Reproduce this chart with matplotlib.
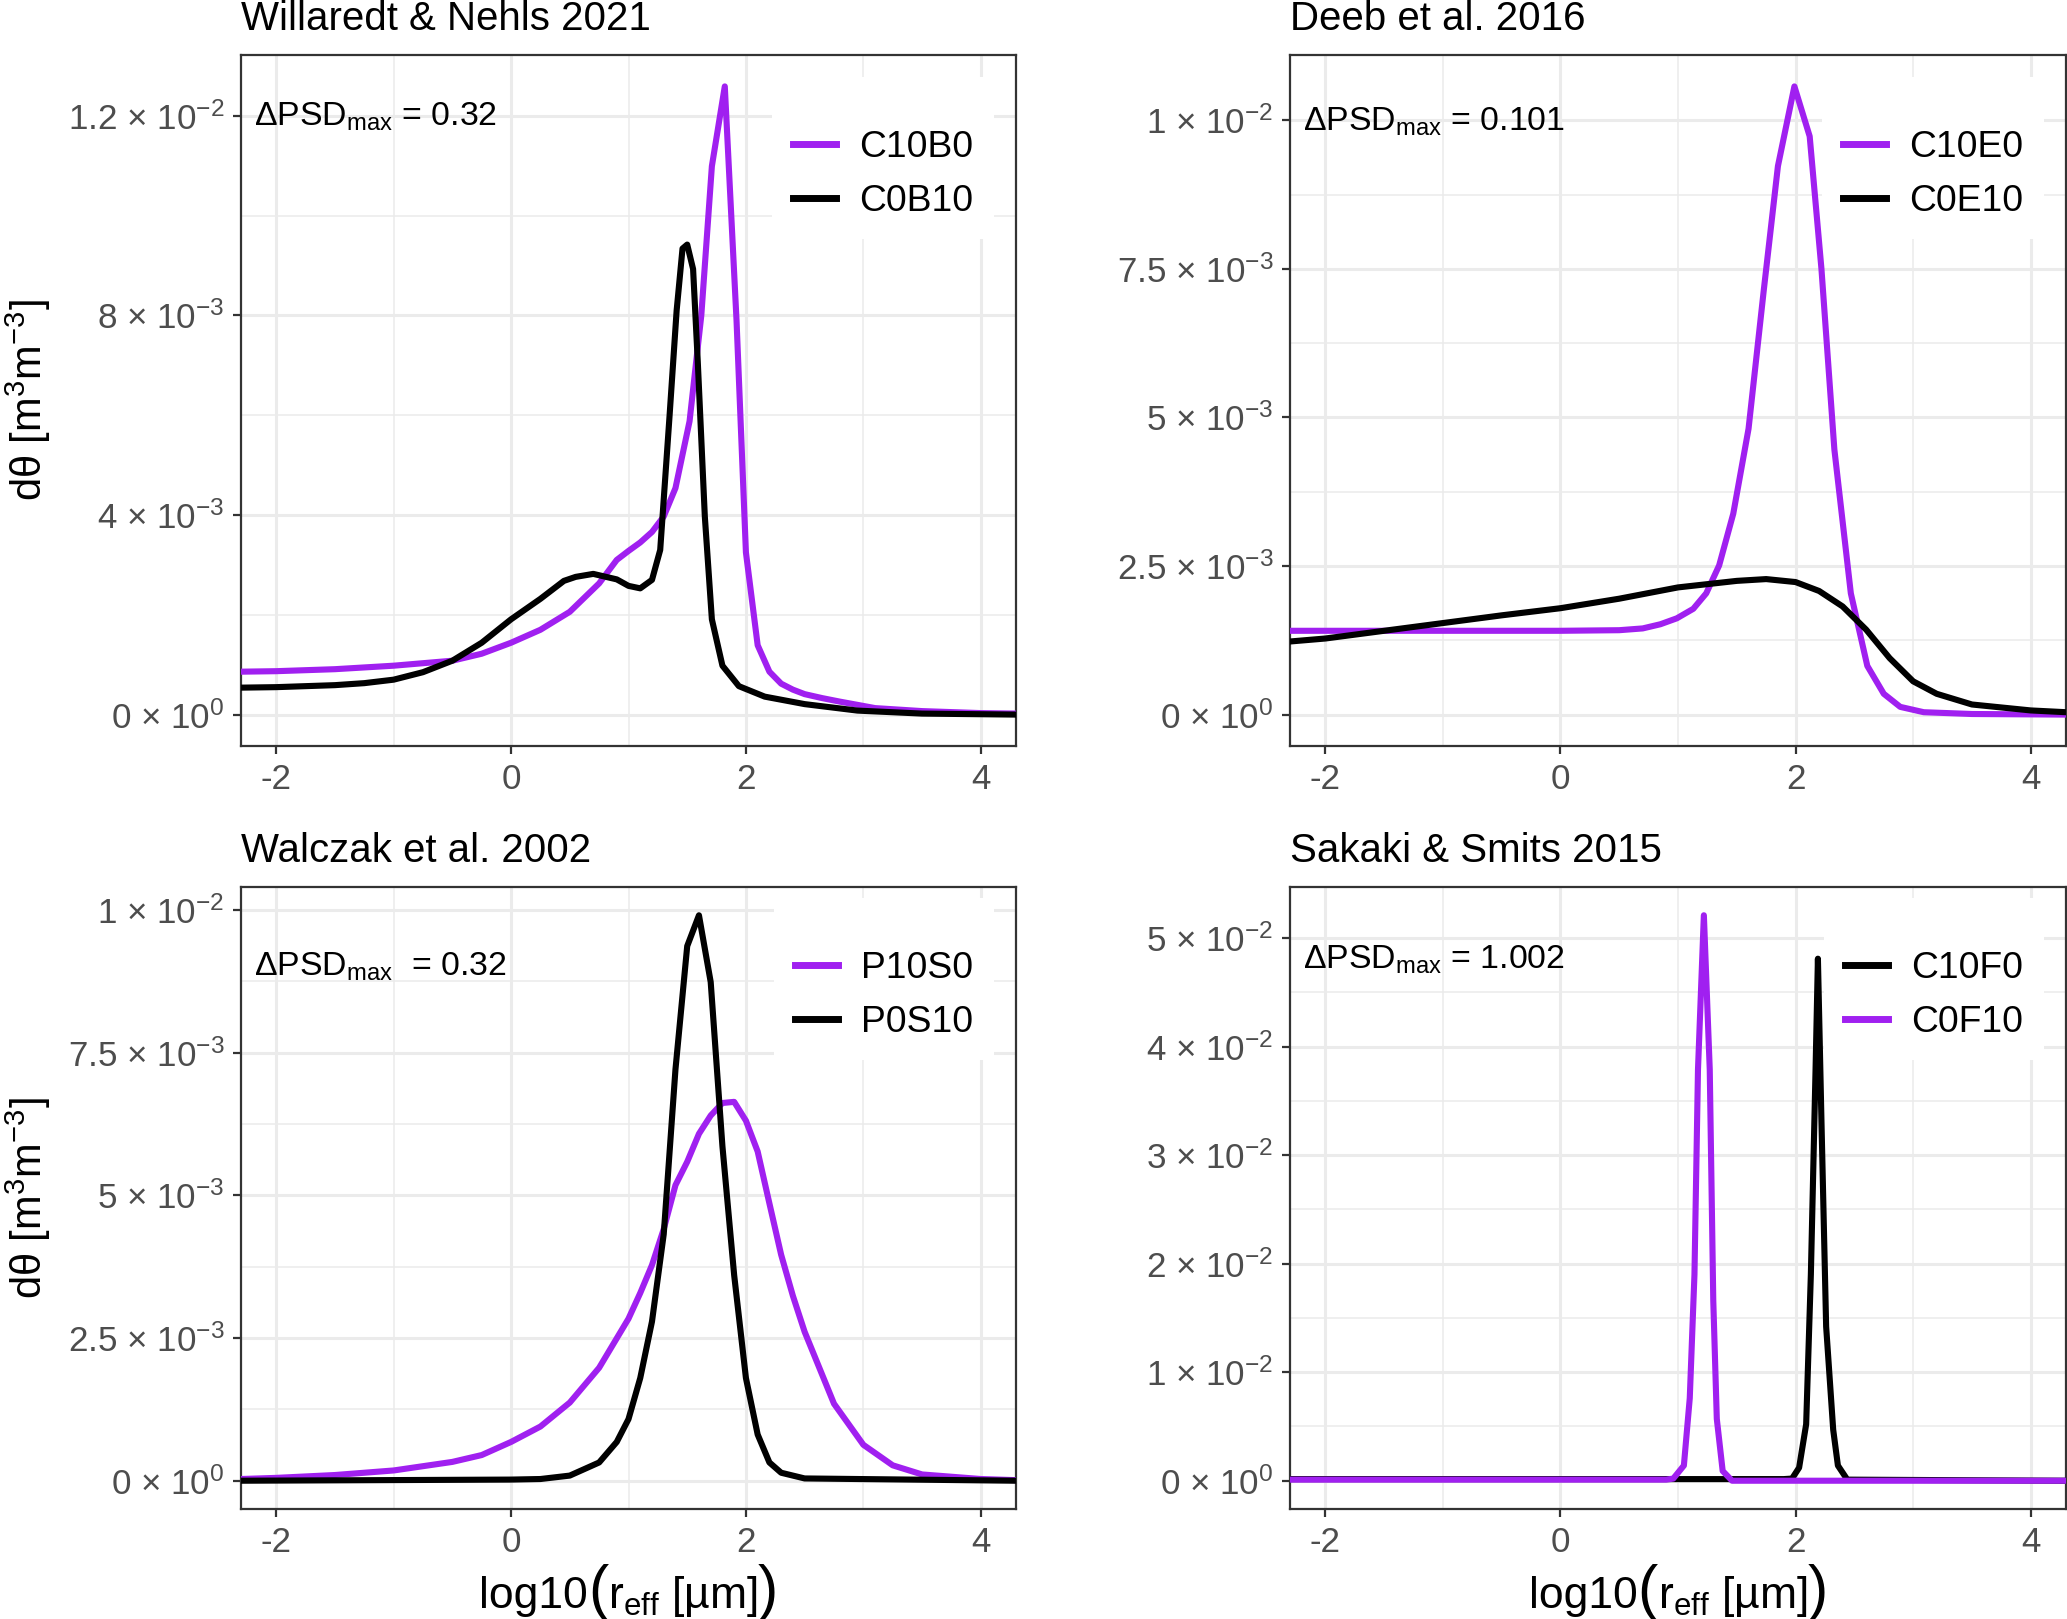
import numpy as np
import matplotlib
matplotlib.use("Agg")
import matplotlib.pyplot as plt
from matplotlib.ticker import FuncFormatter, MultipleLocator
from matplotlib.offsetbox import TextArea, HPacker, AnnotationBbox

plt.rcParams['font.family'] = ['Liberation Sans', 'DejaVu Sans']
plt.rcParams['mathtext.fontset'] = 'custom'
plt.rcParams['mathtext.rm'] = 'Liberation Sans'
plt.rcParams['mathtext.it'] = 'Liberation Sans:italic'
plt.rcParams['mathtext.bf'] = 'Liberation Sans:bold'
plt.rcParams['axes.unicode_minus'] = False

PURPLE = '#A020F0'

# ---- Willaredt & Nehls 2021 (y in 1e-3)
c10b0_x = [-2.3, -2.0, -1.5, -1.0, -0.5, -0.25, 0.0, 0.25, 0.5, 0.75, 0.9, 1.0, 1.1, 1.2,
           1.3, 1.4, 1.52, 1.62, 1.71, 1.82, 1.92, 2.0, 2.1, 2.2, 2.3, 2.4, 2.5, 2.65, 2.8, 3.1, 3.5, 4.0, 4.3]
c10b0_y = [0.86, 0.87, 0.91, 0.98, 1.08, 1.22, 1.44, 1.70, 2.06, 2.63, 3.10, 3.28, 3.45, 3.66,
           3.97, 4.54, 5.88, 8.0, 10.99, 12.59, 7.9, 3.25, 1.39, 0.86, 0.62, 0.50, 0.41, 0.33, 0.26, 0.13, 0.07, 0.03, 0.02]
c0b10_x = [-2.3, -2.0, -1.5, -1.25, -1.0, -0.75, -0.5, -0.25, 0.0, 0.25, 0.45, 0.55, 0.7, 0.9, 1.0, 1.1,
           1.2, 1.27, 1.35, 1.41, 1.46, 1.50, 1.55, 1.59, 1.65, 1.71, 1.80, 1.94, 2.16, 2.5, 2.95, 3.5, 4.3]
c0b10_y = [0.54, 0.55, 0.59, 0.63, 0.70, 0.85, 1.08, 1.44, 1.91, 2.32, 2.68, 2.76, 2.82, 2.71, 2.58, 2.53,
           2.70, 3.30, 6.00, 8.1, 9.34, 9.42, 8.93, 7.07, 3.97, 1.91, 0.98, 0.57, 0.36, 0.21, 0.08, 0.02, 0.0]

# ---- Deeb et al. 2016 (y in 1e-3)
c10e0_x = [-2.3, -1.0, 0.0, 0.5, 0.7, 0.85, 0.99, 1.13, 1.24, 1.35, 1.47, 1.60, 1.73, 1.85, 1.99,
           2.12, 2.22, 2.33, 2.47, 2.61, 2.75, 2.89, 3.09, 3.5, 4.3]
c10e0_y = [1.41, 1.41, 1.41, 1.42, 1.45, 1.52, 1.62, 1.78, 2.04, 2.51, 3.38, 4.81, 7.15, 9.23, 10.57,
           9.73, 7.5, 4.46, 2.04, 0.82, 0.35, 0.13, 0.04, 0.01, 0.0]
c0e10_x = [-2.3, -2.0, -1.5, -1.0, -0.5, 0.0, 0.5, 1.0, 1.5, 1.75, 2.0, 2.2, 2.4, 2.6, 2.8, 3.0,
           3.2, 3.5, 4.0, 4.3]
c0e10_y = [1.23, 1.28, 1.41, 1.54, 1.67, 1.79, 1.95, 2.14, 2.25, 2.28, 2.23, 2.08, 1.82, 1.43, 0.95, 0.56,
           0.35, 0.17, 0.07, 0.04]

# ---- Walczak et al. 2002 (y in 1e-3)
p10s0_x = [-2.3, -2.0, -1.5, -1.0, -0.5, -0.25, 0.0, 0.25, 0.5, 0.75, 1.0, 1.1, 1.2, 1.3, 1.4, 1.5,
           1.6, 1.7, 1.8, 1.9, 2.0, 2.1, 2.2, 2.3, 2.4, 2.5, 2.75, 3.0, 3.25, 3.5, 4.0, 4.3]
p10s0_y = [0.03, 0.05, 0.10, 0.18, 0.33, 0.45, 0.68, 0.95, 1.37, 1.98, 2.84, 3.29, 3.78, 4.41, 5.18, 5.59,
           6.08, 6.40, 6.62, 6.64, 6.31, 5.77, 4.86, 3.96, 3.24, 2.61, 1.35, 0.63, 0.27, 0.11, 0.03, 0.01]
p0s10_x = [-2.3, 0.0, 0.25, 0.5, 0.75, 0.9, 1.0, 1.1, 1.2, 1.3, 1.4, 1.5, 1.6, 1.7, 1.8, 1.9, 2.0,
           2.1, 2.2, 2.3, 2.5, 4.3]
p0s10_y = [0.0, 0.02, 0.03, 0.09, 0.32, 0.68, 1.08, 1.80, 2.79, 4.32, 7.21, 9.37, 9.91, 8.74, 5.86, 3.60, 1.80,
           0.81, 0.32, 0.14, 0.04, 0.0]

# ---- Sakaki & Smits 2015 (y in 1e-2)
c10f0_x = [-2.3, 1.9, 1.97, 2.03, 2.09, 2.13, 2.17, 2.19, 2.22, 2.26, 2.32, 2.36, 2.44, 4.3]
c10f0_y = [0.015, 0.015, 0.02, 0.12, 0.52, 1.9, 3.79, 4.81, 3.32, 1.42, 0.47, 0.14, 0.01, 0.0]
c0f10_x = [-2.3, 0.9, 0.96, 1.05, 1.10, 1.14, 1.17, 1.22, 1.27, 1.30, 1.33, 1.38, 1.46, 4.3]
c0f10_y = [0.01, 0.01, 0.02, 0.14, 0.76, 1.9, 3.79, 5.21, 3.79, 1.66, 0.57, 0.09, 0.0, 0.0]

titles = ['Willaredt & Nehls 2021', 'Deeb et al. 2016', 'Walczak et al. 2002', 'Sakaki & Smits 2015']
annots = ['ΔPSD$_{\\mathregular{max}}$ = 0.32', 'ΔPSD$_{\\mathregular{max}}$ = 0.101',
          'ΔPSD$_{\\mathregular{max}}$  = 0.32', 'ΔPSD$_{\\mathregular{max}}$ = 1.002']

panels = [
    [(c10b0_x, np.array(c10b0_y) * 1e-3, PURPLE, 'C10B0'), (c0b10_x, np.array(c0b10_y) * 1e-3, 'black', 'C0B10')],
    [(c10e0_x, np.array(c10e0_y) * 1e-3, PURPLE, 'C10E0'), (c0e10_x, np.array(c0e10_y) * 1e-3, 'black', 'C0E10')],
    [(p10s0_x, np.array(p10s0_y) * 1e-3, PURPLE, 'P10S0'), (p0s10_x, np.array(p0s10_y) * 1e-3, 'black', 'P0S10')],
    [(c10f0_x, np.array(c10f0_y) * 1e-2, 'black', 'C10F0'), (c0f10_x, np.array(c0f10_y) * 1e-2, PURPLE, 'C0F10')],
]
y_major = [4e-3, 2.5e-3, 2.5e-3, 1e-2]
annot_y = [0.91, 0.903, 0.872, 0.883]
legend_y = [1.0, 1.0, 1.018, 1.018]


def sci(v, pos):
    if abs(v) < 1e-12:
        m, e = '0', 0
    else:
        e = int(np.floor(np.log10(abs(v)) + 1e-9))
        m = f"{v / 10**e:.2f}".rstrip('0').rstrip('.')
    return m + " × 10$^{\\mathregular{" + str(e) + "}}$"


W, H = 2067, 1619
fig = plt.figure(figsize=(W / 200, H / 200), dpi=200)
boxes = [(241, 55, 1016, 746), (1290, 55, 2066, 746), (241, 887, 1016, 1509), (1290, 887, 2066, 1509)]

for i, (l, t, r, b) in enumerate(boxes):
    ax = fig.add_axes([l / W, 1 - b / H, (r - l) / W, (b - t) / H])
    ymax = max(np.max(s[1]) for s in panels[i])
    ymin = 0.0
    rng = ymax - ymin
    for x, y, c, lab in panels[i]:
        ax.plot(x, y, color=c, lw=2.2, label=lab, solid_joinstyle='round', zorder=3)
    ax.set_xlim(-2.3, 4.3)
    ax.set_ylim(ymin - 0.05 * rng, ymax + 0.05 * rng)
    ax.xaxis.set_major_locator(MultipleLocator(2))
    ax.xaxis.set_minor_locator(MultipleLocator(1))
    ax.yaxis.set_major_locator(MultipleLocator(y_major[i]))
    ax.yaxis.set_minor_locator(MultipleLocator(y_major[i] / 2))
    ax.yaxis.set_major_formatter(FuncFormatter(sci))
    ax.xaxis.set_major_formatter(FuncFormatter(lambda v, p: f"{v:g}"))
    ax.grid(True, which='major', color='#EBEBEB', lw=1.1, zorder=0)
    ax.grid(True, which='minor', color='#EBEBEB', lw=0.55, zorder=0)
    ax.set_axisbelow(True)
    ax.tick_params(which='major', length=3, width=0.8, color='#333333', labelcolor='#4D4D4D',
                   labelsize=12.6, pad=3)
    ax.tick_params(which='minor', length=0)
    for s in ax.spines.values():
        s.set_color('#333333')
        s.set_linewidth(0.8)
    ax.set_title(titles[i], loc='left', fontsize=14.5, pad=9)
    ax.text(0.017, annot_y[i], annots[i], transform=ax.transAxes, fontsize=12.2, va='center', ha='left')
    leg = ax.legend(loc='upper right', bbox_to_anchor=(1, legend_y[i]), fontsize=13.4,
                    title=' ', title_fontsize=5, handlelength=1.16, handletextpad=0.62,
                    labelspacing=0.5, borderpad=0.55, borderaxespad=0.6, fancybox=False,
                    framealpha=1, edgecolor='none', facecolor='white')
    for h in leg.get_lines():
        h.set_linewidth(2.5)
    if i % 2 == 0:
        ax.set_ylabel('dθ [m$^{\\mathregular{3}}$m$^{\\mathregular{-3}}$]', fontsize=15, va='top')
        ax.yaxis.set_label_coords(-0.306, 0.5)
    if i >= 2:
        parts = [TextArea('log10', textprops=dict(fontsize=16)),
                 TextArea('(', textprops=dict(fontsize=22)),
                 TextArea('r$_{\\mathregular{eff}}$ [µm]', textprops=dict(fontsize=16)),
                 TextArea(')', textprops=dict(fontsize=22))]
        pack = HPacker(children=parts, align='baseline', pad=0, sep=0)
        ab = AnnotationBbox(pack, ((l + r) / 2 / W, 1 - 1592 / H), xycoords='figure fraction',
                            box_alignment=(0.5, 0.5), frameon=False)
        fig.add_artist(ab)

fig.savefig('out.png', dpi=200)
